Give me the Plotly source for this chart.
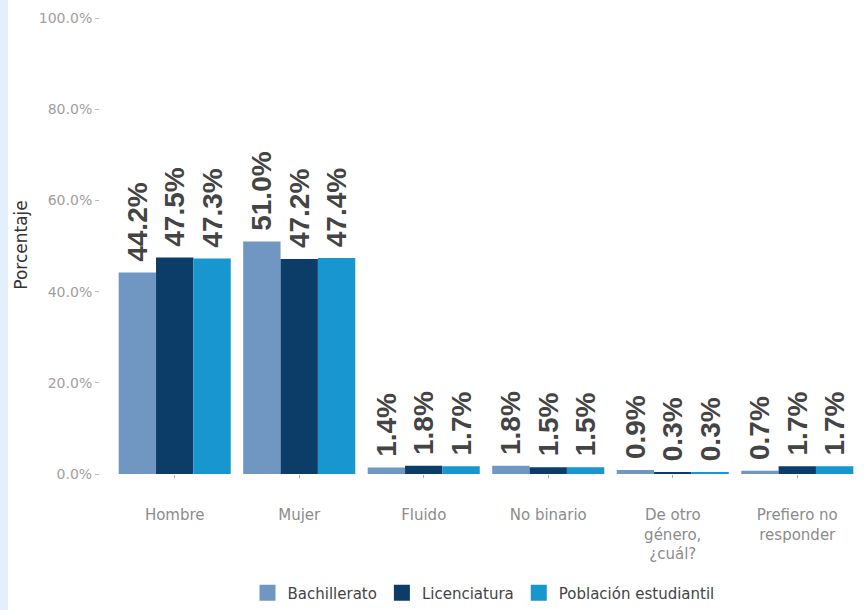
import plotly.graph_objects as go

categorias = ["Hombre", "Mujer", "Fluido", "No binario",
              "De otro<br>género,<br>¿cuál?", "Prefiero no<br>responder"]
series = ["Bachillerato", "Licenciatura", "Población estudiantil"]
bachillerato = [44.2, 51.0, 1.4, 1.8, 0.9, 0.7]
licenciatura = [47.5, 47.2, 1.8, 1.5, 0.3, 1.7]
poblacion = [47.3, 47.4, 1.7, 1.5, 0.3, 1.7]
colores = ["#7097c1", "#0c3c68", "#1796cf"]
y_ticks = [0, 20, 40, 60, 80, 100]

valores = [bachillerato, licenciatura, poblacion]
x_idx = list(range(len(categorias)))

fig = go.Figure()
for nombre, vals, color in zip(series, valores, colores):
    fig.add_trace(go.Bar(
        x=x_idx, y=vals, name=nombre, marker_color=color,
        marker_line_width=0,
        # leading no-break space keeps the label off the bar top
        text=[f"\u00a0{v:.1f}%" for v in vals],
        textposition="outside", textangle=-90,
        constraintext="none", cliponaxis=False,
        textfont=dict(family="Liberation Sans, Arial, sans-serif",
                      size=28, color="#444444", weight="bold"),
        showlegend=False,
    ))
    # square legend swatch
    fig.add_trace(go.Scatter(
        x=[None], y=[None], mode="markers", name=nombre,
        marker=dict(symbol="square", size=17, color=color),
        showlegend=True,
    ))

fig.update_layout(
    width=867, height=610,
    margin=dict(l=100, r=0, t=16, b=136),
    paper_bgcolor="white", plot_bgcolor="white",
    barmode="group", bargap=0.1, bargroupgap=0,
    font=dict(family="DejaVu Sans, sans-serif", color="#555555"),
    xaxis=dict(
        range=[-0.6, 5.56], tickmode="array", tickvals=x_idx,
        ticktext=categorias, showgrid=False, zeroline=False,
        showline=False, ticks="outside", ticklen=3, tickwidth=1,
        tickcolor="#aaaaaa", ticklabelstandoff=24,
        tickfont=dict(size=15, color="#8c8c8c"),
    ),
    yaxis=dict(
        range=[0, 100.5], tickmode="array", tickvals=y_ticks,
        ticktext=[f"{v:.1f}%" for v in y_ticks],
        showgrid=False, zeroline=False, showline=False,
        ticks="outside", ticklen=4, tickwidth=1, tickcolor="#bbbbbb",
        tickfont=dict(size=14, color="#a0a0a0"),
        title=dict(text="Porcentaje", standoff=6,
                   font=dict(size=17, color="#333333")),
    ),
    legend=dict(
        orientation="h", x=0.5, xanchor="center", y=-0.26,
        yanchor="middle", font=dict(size=15, color="#444444"),
        itemclick=False,
    ),
    shapes=[dict(type="rect", xref="paper", yref="paper",
                 x0=-0.1304, x1=-0.12, y0=-0.3, y1=1.04,
                 fillcolor="#e3f0f9", line_width=0, layer="below")],
)

fig.write_html("out.html")
